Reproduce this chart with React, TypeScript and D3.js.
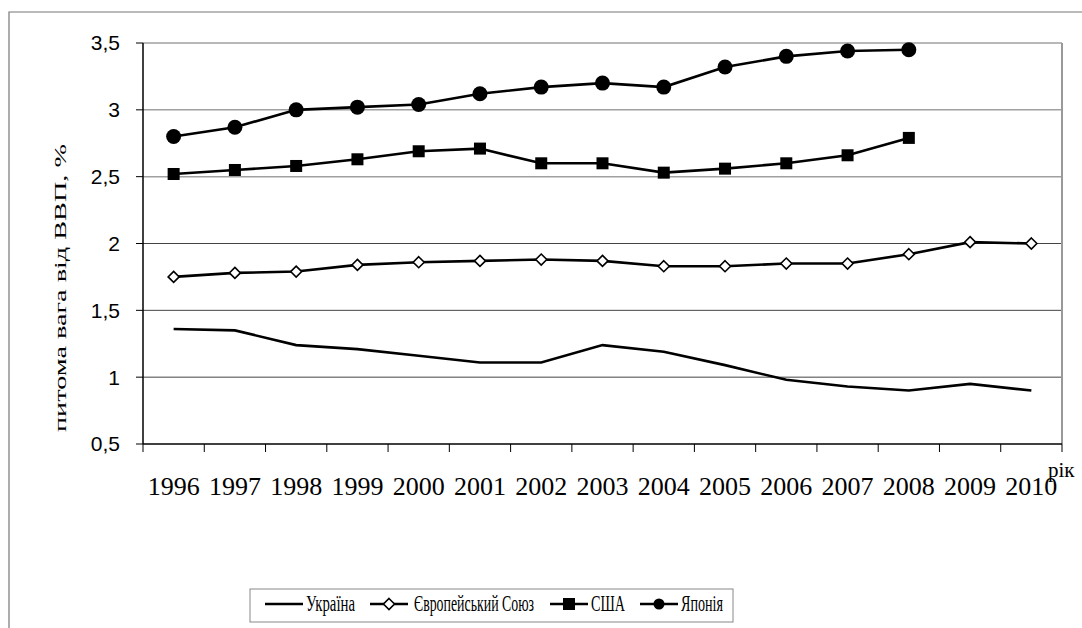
import React from 'react';
import * as d3 from 'd3';

const years = ['1996', '1997', '1998', '1999', '2000', '2001', '2002', '2003', '2004', '2005', '2006', '2007', '2008', '2009', '2010'];
const ukraine = [1.36, 1.35, 1.24, 1.21, 1.16, 1.11, 1.11, 1.24, 1.19, 1.09, 0.98, 0.93, 0.90, 0.95, 0.90];
const eu = [1.75, 1.78, 1.79, 1.84, 1.86, 1.87, 1.88, 1.87, 1.83, 1.83, 1.85, 1.85, 1.92, 2.01, 2.00];
const usa = [2.52, 2.55, 2.58, 2.63, 2.69, 2.71, 2.60, 2.60, 2.53, 2.56, 2.60, 2.66, 2.79];
const japan = [2.80, 2.87, 3.00, 3.02, 3.04, 3.12, 3.17, 3.20, 3.17, 3.32, 3.40, 3.44, 3.45];
const yTicks = [0.5, 1, 1.5, 2, 2.5, 3, 3.5];
const seriesNames = ['Україна', 'Європейський Союз', 'США', 'Японія'];

const W = 1082, H = 628;
const margin = { top: 43, right: 20, bottom: 184, left: 143 };

const serif = '"Liberation Serif", "Times New Roman", serif';
const sans = '"Liberation Sans", Arial, sans-serif';

function Marker({ kind, cx, cy, r = 7.5 }: { kind: string, cx: number, cy: number, r?: number }) {
    if (kind === 'circle') return <circle cx={cx} cy={cy} r={r} fill="#000" />;
    if (kind === 'square') return <rect x={cx - 6} y={cy - 6} width={12} height={12} fill="#000" />;
    if (kind === 'diamond') {
        const s = 5.5;
        return <path d={`M${cx},${cy - s}L${cx + s},${cy}L${cx},${cy + s}L${cx - s},${cy}Z`} fill="#fff" stroke="#000" strokeWidth={1.6} />;
    }
    return null;
}

export default function App() {
    // set the ranges
    const x = d3.scaleBand<string>().domain(years).range([margin.left, W - margin.right]);
    const y = d3.scaleLinear().domain([0.5, 3.5]).range([H - margin.bottom, margin.top]);
    const cx = (i: number) => (x(years[i]) as number) + x.bandwidth() / 2;

    const line = d3.line<number>()
        .x((d, i) => cx(i))
        .y(d => y(d));

    const series = [
        { name: seriesNames[0], values: ukraine, marker: 'none' },
        { name: seriesNames[1], values: eu, marker: 'diamond' },
        { name: seriesNames[2], values: usa, marker: 'square' },
        { name: seriesNames[3], values: japan, marker: 'circle' },
    ];

    const x0 = margin.left, x1 = W - margin.right;
    const y0 = H - margin.bottom, y1 = margin.top;
    const fmt = (v: number) => String(v).replace('.', ',');

    // legend layout (text widths as in the condensed original)
    const legendItems = [
        { lx: 265, tx: 306, tw: 49 },
        { lx: 370, tx: 414, tw: 120 },
        { lx: 550, tx: 591, tw: 34 },
        { lx: 640, tx: 681, tw: 42 },
    ];
    const legendY = 604;

    return (
        <svg width={W} height={H} style={{ position: 'absolute', left: 0, top: 0, background: '#fff' }}>
            {/* outer frame */}
            <path d={`M9,${H}V12H${W}`} fill="none" stroke="#777" strokeWidth={1.2} />

            {/* gridlines */}
            {yTicks.slice(1).map(t => (
                <line key={t} x1={x0} x2={x1} y1={y(t)} y2={y(t)}
                    stroke={t >= 2.5 ? '#a0a0a0' : '#444'} strokeWidth={t >= 2.5 ? 1.5 : 1} />
            ))}
            {/* right border */}
            <line x1={x1} x2={x1} y1={y1} y2={y0} stroke="#999" strokeWidth={2} />

            {/* y axis */}
            <line x1={x0} x2={x0} y1={y1} y2={y0} stroke="#000" strokeWidth={1.5} />
            {yTicks.map(t => (
                <g key={t}>
                    <line x1={x0 - 7} x2={x0} y1={y(t)} y2={y(t)} stroke="#000" />
                    <text x={120} y={y(t)} dy="0.35em" textAnchor="end" fontFamily={sans} fontSize={21}>{fmt(t)}</text>
                </g>
            ))}

            {/* x axis */}
            <line x1={x0} x2={x1} y1={y0} y2={y0} stroke="#000" strokeWidth={1.5} />
            {years.concat(['end']).map((yr, i) => {
                const px = i < years.length ? (x(yr) as number) : x1;
                return <line key={yr} x1={px} x2={px} y1={y0} y2={y0 + 8} stroke="#000" />;
            })}
            {years.map((yr, i) => (
                <text key={yr} x={cx(i)} y={495} textAnchor="middle" fontFamily={serif} fontSize={26}>{yr}</text>
            ))}
            <text x={1048} y={477} fontFamily={serif} fontSize={21}>рік</text>

            {/* y label */}
            <text transform={`translate(66,288) rotate(-90)`} textAnchor="middle" fontFamily={serif} fontSize={17}
                textLength={288} lengthAdjust="spacingAndGlyphs">питома вага від ВВП, %</text>

            {/* series */}
            {series.map(s => (
                <g key={s.name}>
                    <path d={line(s.values) as string} fill="none" stroke="#000" strokeWidth={2.6} />
                    {s.values.map((v, i) => <Marker key={i} kind={s.marker} cx={cx(i)} cy={y(v)} />)}
                </g>
            ))}

            {/* legend */}
            <rect x={250} y={589} width={483} height={33} fill="#fff" stroke="#888" strokeWidth={1} />
            {series.map((s, i) => {
                const it = legendItems[i];
                return (
                    <g key={s.name}>
                        <line x1={it.lx} x2={it.lx + 38} y1={legendY} y2={legendY} stroke="#000" strokeWidth={2.6} />
                        <Marker kind={s.marker} cx={it.lx + 19} cy={legendY} r={5.5} />
                        <text x={it.tx} y={611} fontFamily={serif} fontSize={24} textLength={it.tw} lengthAdjust="spacingAndGlyphs">{s.name}</text>
                    </g>
                );
            })}
        </svg>
    );
}
